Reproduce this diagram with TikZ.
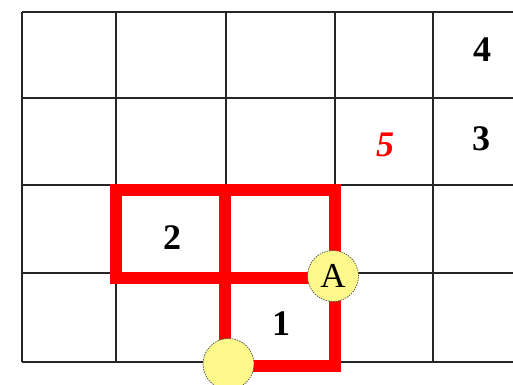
\documentclass[tikz,border=0pt]{standalone}
\usepackage{fontspec}
\setmainfont{Liberation Serif}
\begin{document}
\begin{tikzpicture}[x=1pt,y=-1pt,
  gridline/.style={draw=black!85,line width=1.8pt},
  redpath/.style={draw=red,line width=12.5pt,line join=miter},
  digit/.style={inner sep=0pt,font=\fontsize{36}{36}\selectfont\bfseries},
  reddigit/.style={digit,text=red,font=\fontsize{36}{36}\selectfont\bfseries\itshape},
  marker/.style={circle,draw=black!70,dashed,dash pattern=on 1.5pt off 1pt,line width=0.7pt,fill=yellow!45,minimum size=51pt,inner sep=0pt,font=\fontsize{35}{35}\selectfont}]
\useasboundingbox (0,0) rectangle (513,384);
% grid
\foreach \x in {22,116,226,335,433} \draw[gridline] (\x,12) -- (\x,362);
\foreach \y in {12,98,185,273,362} \draw[gridline] (22,\y) -- (513,\y);
% red path
\draw[redpath] (116,190) rectangle (335,278);
\draw[redpath] (225,190) -- (225,366) -- (335,366) -- (335,278);
% labels
\node[digit] (n4) at (482,50) {4};
\node[digit] (n3) at (481,139) {3};
\node[reddigit] (n5) at (385,145) {5};
\node[digit] (n2) at (172,238) {2};
\node[digit] (n1) at (281,324) {1};
% markers
\node[marker] (A) at (333,276) {A};
\node[marker] (B) at (228.5,364) {};
\end{tikzpicture}
\end{document}
